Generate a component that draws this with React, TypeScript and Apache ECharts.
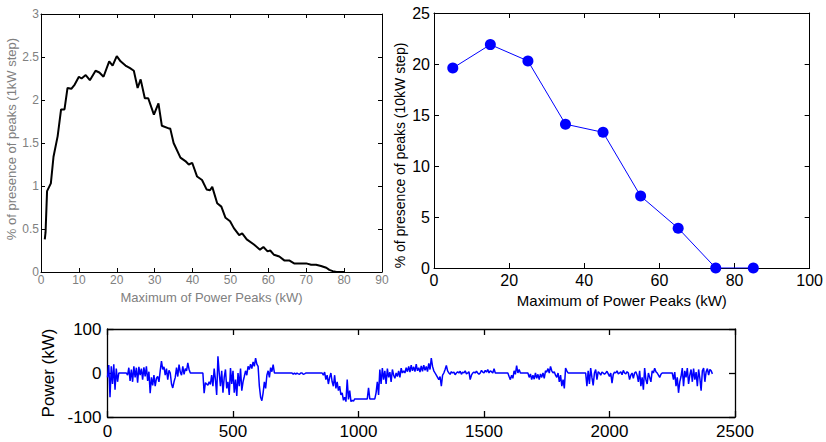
import React, { useEffect, useRef } from "react";
import * as echarts from "echarts";

// Top-left: % of presence of peaks, 1 kW step
const peakKw1 = [1, 1.2, 1.6, 2.6, 3.3, 4.4, 5.3, 6.2, 7, 8, 8.9, 10, 10.7, 11.8, 12.9, 14.4, 15.4, 16.5, 18, 18.9, 20, 21, 22.3, 23.5, 24.5, 25.5, 26.3, 27.4, 28.3, 29.8, 31, 31.9, 33.7, 34.1, 35, 36.8, 38.1, 39, 39.9, 41.2, 42.5, 43.7, 44.6, 45.2, 46.5, 47.6, 48.7, 49.9, 50.9, 52.3, 53.1, 54.3, 56.2, 57.8, 58.7, 59.8, 60.5, 61.5, 62.9, 64.2, 65.5, 66.8, 68.6, 70, 71.3, 72.6, 73.9, 75.3, 76.1, 77, 78, 79, 80];
const presence1 = [0.38, 0.46, 0.94, 1.03, 1.34, 1.58, 1.89, 1.89, 2.14, 2.13, 2.18, 2.27, 2.25, 2.29, 2.23, 2.34, 2.32, 2.27, 2.45, 2.4, 2.51, 2.45, 2.4, 2.37, 2.34, 2.14, 2.24, 2.02, 2.02, 1.83, 1.96, 1.7, 1.67, 1.67, 1.5, 1.33, 1.29, 1.25, 1.27, 1.11, 1.07, 0.96, 0.95, 0.99, 0.8, 0.76, 0.63, 0.59, 0.51, 0.43, 0.45, 0.38, 0.32, 0.26, 0.29, 0.24, 0.25, 0.2, 0.18, 0.135, 0.135, 0.1, 0.1, 0.1, 0.085, 0.085, 0.07, 0.05, 0.025, 0.01, 0, 0, 0];

// Top-right: % of presence of peaks, 10 kW step
const peakKw10 = [5, 15, 25, 35, 45, 55, 65, 75, 85];
const presence10 = [19.6, 21.9, 20.3, 14.1, 13.3, 7.05, 3.9, 0, 0];

// Bottom: power time series (one value every 5 units)
const powerStep = 5;
const powerKw = [
  -10, 18, -55, 15, -25, 20, -38, 10, -20, 0, 0, 0, 0, 0, 0, 0, -5, 12, -18, 8,
  -20, 15, -10, 12, -22, 14, -5, 10, -15, 13, -8, 15, -18, 3, -46, -10, -28, -5, -30, -12,
  -8, -20, 5, 27, 8, 14, -5, 10, -15, 6, 0, -25, -34, -20, -10, 12, -8, 19, 2, -5,
  15, -3, 10, 5, 23, 8, 0, 0, 0, 0, 0, 0, 0, 0, 0, 0, 0, -46, -22, -25,
  -28, -20, -26, -5, -30, 10, -15, -50, 38, 0, -30, 5, -45, -10, 8, -35, -20, -50, 11, -25,
  5, -45, -15, -52, 0, -30, 10, -40, -20, -8, 5, -5, 15, 8, 20, 10, 25, 15, 34, 20,
  15, -30, -55, -63, -45, -20, -35, -5, 5, -10, 12, 3, 19, 0, 0, 0, 0, 0, 0, 0,
  0, 0, 0, 0, 0, 0, 0, 0, -3, 0, -3, 0, -2, -3, 0, 0, -3, -2, 0, 0,
  0, 0, 0, 0, 0, 0, 0, 0, 0, 0, 0, 0, -5, 2, -15, -5, -25, -10, 0, -20,
  -30, -5, -35, -20, -40, -30, -50, -45, -62, -55, -65, -15, -60, -40, -65, -62, -64, -59, -59, -59,
  -59, -59, -59, -59, -59, -59, -59, -59, -34, -59, -59, -59, -59, -59, -45, -20, -50, 8, -25, 11,
  -15, 5, -25, 10, -10, 2, -20, 8, -5, -12, 0, -8, 5, -10, 11, 0, 5, 0, 12, 3,
  15, 2, 18, 5, 14, 3, 20, 5, 12, 2, 16, 4, 18, 6, 15, 3, 22, 8, 34, 15,
  5, 0, -5, -10, -15, -8, -30, -5, 0, 8, 17, 5, 0, -3, 3, 0, 2, -4, 0, 3,
  0, 4, -3, 2, 0, 5, -2, 0, 3, -15, -5, 0, 2, 0, 4, 0, -3, 0, 6, 2,
  0, 6, 2, 8, 0, 5, 3, 0, 10, 0, 0, 0, 0, 0, 0, 0, 0, 0, 0, 0,
  -8, -15, -5, -12, 5, -3, 17, 0, 8, 0, 0, 0, 0, 0, 0, 0, -10, -2, -15, -5,
  -14, 0, -12, -3, -15, -2, -10, 0, -12, 5, 2, 10, 0, 15, 5, 0, 3, -5, -10, 0,
  -20, -5, -30, -15, -35, 11, 5, 0, 0, 0, 0, 0, 0, 0, 0, 0, 0, 0, 0, 0,
  0, 0, -30, 5, -25, 11, -10, -28, 0, 8, -15, 3, 0, -5, 2, 0, -3, 0, 4, -2,
  -8, 0, -23, -3, 2, 0, 5, -2, 0, 3, -4, 6, 0, -2, 3, 0, -15, -5, 0, -12,
  0, 3, -5, -20, 5, -30, -10, -38, 11, -15, -25, 0, -10, -20, 5, 0, 11, 3, 0, -5,
  -10, -3, 0, 0, 0, 0, 0, 0, 0, 0, 0, -15, 2, -30, -10, -45, -20, -8, 11, -30,
  5, -10, 11, -25, -5, 8, -20, 10, -15, 2, -30, 8, -12, -40, 5, 11, -20, 3, 10, -5,
  8, 5, -2,
];

const FONT = "'Liberation Sans', Arial, sans-serif";
const GRAY = "#808080";
const plain = (v: number) => String(v);

function boxAxes(grid: number, min: number, max: number, interval: number, tickLen: number, lw: number) {
  return {
    gridIndex: grid,
    type: "value",
    min,
    max,
    interval,
    axisLine: { show: true, onZero: false, lineStyle: { color: "#000", width: lw } },
    axisTick: { show: true, inside: true, length: tickLen, lineStyle: { color: "#000", width: lw } },
    axisLabel: { show: false },
    splitLine: { show: false },
  };
}

export default function App() {
  const ref = useRef<HTMLDivElement>(null);
  useEffect(() => {
    const chart = echarts.init(ref.current!, null, { renderer: "svg" });
    const d1 = peakKw1.map((x, i) => [x, presence1[i]]);
    const d2 = peakKw10.map((x, i) => [x, presence10[i]]);
    const d3 = powerKw.map((v, i) => [i * powerStep, v]);

    const xAxes: any[] = [];
    const yAxes: any[] = [];

    // Grid 0 (top-left)
    xAxes.push({
      ...boxAxes(0, 0, 90, 10, 4, 1),
      position: "bottom",
      axisLabel: { show: true, color: GRAY, fontSize: 12, margin: 2, fontFamily: FONT, formatter: plain },
      name: "Maximum of Power Peaks (kW)",
      nameLocation: "middle",
      nameGap: 13,
      nameTextStyle: { color: GRAY, fontSize: 13, fontFamily: FONT },
    });
    xAxes.push({ ...boxAxes(0, 0, 90, 10, 4, 1), position: "top" });
    yAxes.push({
      ...boxAxes(0, 0, 3, 0.5, 4, 1),
      position: "left",
      axisLabel: { show: true, color: GRAY, fontSize: 12, margin: 2, fontFamily: FONT, formatter: plain },
      name: "% of presence of peaks (1kW step)",
      nameLocation: "middle",
      nameGap: 11,
      nameTextStyle: { color: GRAY, fontSize: 13, fontFamily: FONT, padding: [0, 0, 0, 8] },
    });
    yAxes.push({ ...boxAxes(0, 0, 3, 0.5, 4, 1), position: "right" });

    // Grid 1 (top-right)
    xAxes.push({
      ...boxAxes(1, 0, 100, 20, 5, 1),
      position: "bottom",
      axisLabel: { show: true, color: "#000", fontSize: 16, margin: 4, fontFamily: FONT, formatter: plain },
      name: "Maximum of Power Peaks (kW)",
      nameLocation: "middle",
      nameGap: 23,
      nameTextStyle: { color: "#000", fontSize: 15, fontFamily: FONT },
    });
    xAxes.push({ ...boxAxes(1, 0, 100, 20, 5, 1), position: "top" });
    yAxes.push({
      ...boxAxes(1, 0, 25, 5, 5, 1),
      position: "left",
      axisLabel: { show: true, color: "#000", fontSize: 16, margin: 4, fontFamily: FONT, formatter: plain },
      name: "% of presence of peaks (10kW step)",
      nameLocation: "middle",
      nameGap: 27,
      nameTextStyle: { color: "#000", fontSize: 14, fontFamily: FONT, padding: [0, 30, 0, 0] },
    });
    yAxes.push({ ...boxAxes(1, 0, 25, 5, 5, 1), position: "right" });

    // Grid 2 (bottom)
    xAxes.push({
      ...boxAxes(2, 0, 2500, 500, 6, 1.3),
      position: "bottom",
      axisLabel: { show: true, color: "#000", fontSize: 17, margin: 6, fontFamily: FONT, formatter: plain },
    });
    xAxes.push({ ...boxAxes(2, 0, 2500, 500, 6, 1.3), position: "top" });
    yAxes.push({
      ...boxAxes(2, -100, 100, 100, 6, 1.3),
      position: "left",
      axisLabel: { show: true, color: "#000", fontSize: 17, margin: 6, fontFamily: FONT, formatter: plain },
      name: "Power (kW)",
      nameLocation: "middle",
      nameGap: 51,
      nameTextStyle: { color: "#000", fontSize: 17, fontFamily: FONT },
    });
    yAxes.push({ ...boxAxes(2, -100, 100, 100, 6, 1.3), position: "right" });

    chart.setOption({
      animation: false,
      backgroundColor: "#fff",
      textStyle: { fontFamily: FONT },
      grid: [
        { left: 41, top: 14, width: 341, height: 258 },
        { left: 434, top: 13, width: 377, height: 255 },
        { left: 107.5, top: 329, width: 627.5, height: 88 },
      ],
      xAxis: xAxes,
      yAxis: yAxes,
      series: [
        {
          type: "line",
          xAxisIndex: 0,
          yAxisIndex: 0,
          data: d1,
          showSymbol: false,
          lineStyle: { color: "#000", width: 2 },
        },
        {
          type: "line",
          xAxisIndex: 2,
          yAxisIndex: 2,
          data: d2,
          symbol: "circle",
          symbolSize: 11,
          itemStyle: { color: "#0000ff" },
          lineStyle: { color: "#0000ff", width: 1 },
        },
        {
          type: "line",
          xAxisIndex: 4,
          yAxisIndex: 4,
          data: d3,
          showSymbol: false,
          lineStyle: { color: "#0000ff", width: 1.5 },
        },
      ],
    });
    return () => chart.dispose();
  }, []);
  return (
    <div
      ref={ref}
      style={{ position: "fixed", left: 0, top: 0, width: 826, height: 442, background: "#fff" }}
    />
  );
}
